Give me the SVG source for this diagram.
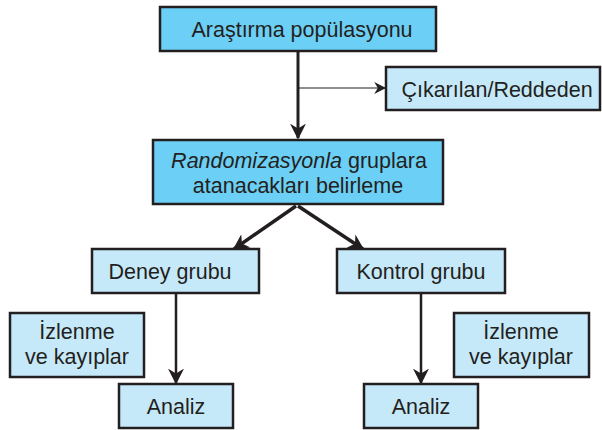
<svg xmlns="http://www.w3.org/2000/svg" width="602" height="430" viewBox="0 0 602 430">
<style>
.dark{fill:#6ccff6;stroke:#231f20;stroke-width:2.5}
.light{fill:#c6e9f9;stroke:#231f20;stroke-width:2.5}
text{font-family:"Liberation Sans",Arial,sans-serif;font-size:21.5px;fill:#231f20;text-anchor:middle}
.c{stroke:#231f20;fill:none}
</style>
<defs>
<marker id="big" viewBox="0 0 10 10" refX="9" refY="5" markerWidth="16" markerHeight="16" markerUnits="userSpaceOnUse" orient="auto"><path d="M0,0 L10,5 L0,10 L3,5 Z" fill="#231f20"/></marker>
<marker id="small" viewBox="0 0 10 10" refX="9" refY="5" markerWidth="12" markerHeight="12" markerUnits="userSpaceOnUse" orient="auto"><path d="M0,0 L10,5 L0,10 L3,5 Z" fill="#231f20"/></marker>
</defs>
<g id="connectors">
<path class="c" d="M298,51 V138" stroke-width="3" marker-end="url(#big)"/>
<path class="c" d="M298,88 H385" stroke-width="1.2" marker-end="url(#small)"/>
<path class="c" d="M296,206 L234,249" stroke-width="3.5" marker-end="url(#big)"/>
<path class="c" d="M298,206 L363,249" stroke-width="3.5" marker-end="url(#big)"/>
<path class="c" d="M176,293 V383" stroke-width="2.5" marker-end="url(#big)"/>
<path class="c" d="M421,293 V383" stroke-width="2.5" marker-end="url(#big)"/>
</g>
<g id="populasyon"><rect class="dark" x="160" y="7" width="276" height="44"/><text x="302" y="37">Araştırma popülasyonu</text></g>
<g id="cikarilan"><rect class="light" x="386" y="67" width="214" height="43"/><text x="497" y="97">Çıkarılan/Reddeden</text></g>
<g id="randomizasyon"><rect class="dark" x="153" y="140" width="290" height="64"/><text x="299" y="168"><tspan font-style="italic">Randomizasyonla</tspan> gruplara</text><text x="298" y="193">atanacakları belirleme</text></g>
<g id="deney"><rect class="light" x="92" y="249" width="167" height="44"/><text x="170" y="279">Deney grubu</text></g>
<g id="kontrol"><rect class="light" x="337" y="249" width="168" height="44"/><text x="421" y="279">Kontrol grubu</text></g>
<g id="izlenme1"><rect class="light" x="10" y="313" width="134" height="64"/><text x="77" y="339">İzlenme</text><text x="77" y="364">ve kayıplar</text></g>
<g id="izlenme2"><rect class="light" x="454" y="313" width="135" height="64"/><text x="521" y="339">İzlenme</text><text x="521" y="364">ve kayıplar</text></g>
<g id="analiz1"><rect class="light" x="119" y="384" width="114" height="44"/><text x="176" y="414">Analiz</text></g>
<g id="analiz2"><rect class="light" x="364" y="384" width="114" height="44"/><text x="421" y="414">Analiz</text></g>
</svg>
